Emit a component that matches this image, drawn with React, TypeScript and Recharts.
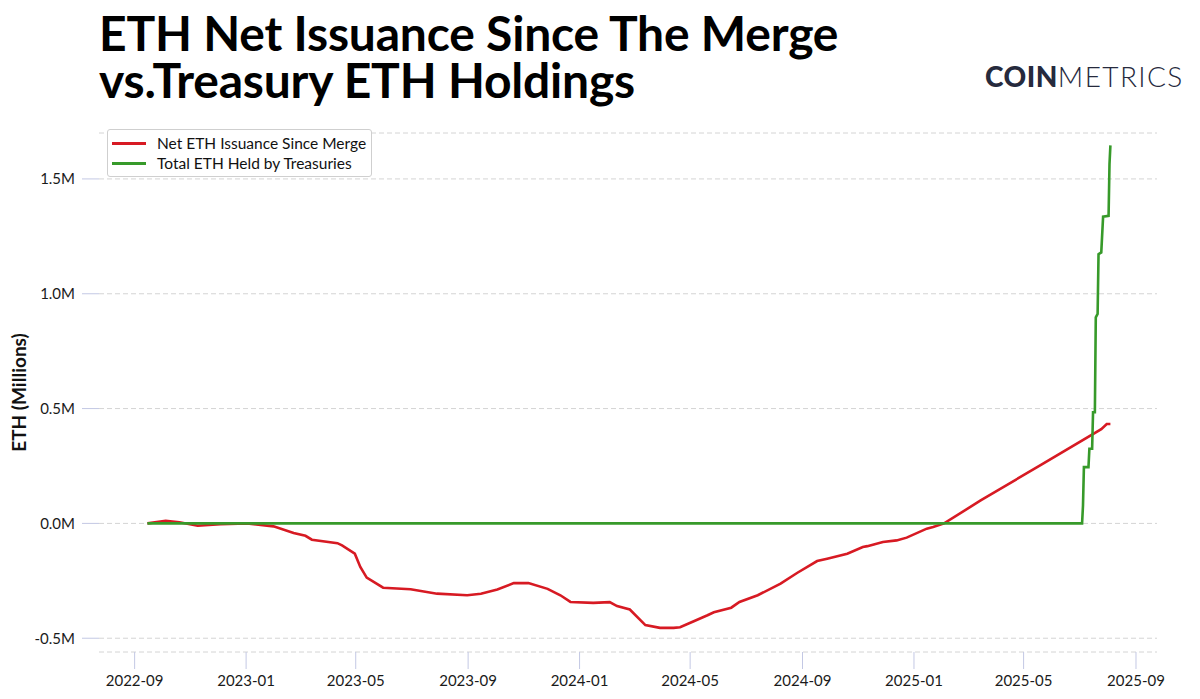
import React from 'react';
import { LineChart, Line, XAxis, YAxis, CartesianGrid, Label } from 'recharts';

// Net ETH issuance since the merge (millions of ETH)
const issuanceDates = [
  '2022-09-15', '2022-10-05', '2022-10-20', '2022-11-09', '2022-12-04', '2023-01-02',
  '2023-01-31', '2023-02-22', '2023-03-07', '2023-03-14', '2023-04-11', '2023-04-16',
  '2023-04-30', '2023-05-06', '2023-05-13', '2023-05-31', '2023-06-30', '2023-07-29',
  '2023-08-31', '2023-09-15', '2023-10-03', '2023-10-21', '2023-11-06', '2023-11-27',
  '2023-12-11', '2023-12-22', '2024-01-16', '2024-02-03', '2024-02-11', '2024-02-25',
  '2024-03-13', '2024-03-29', '2024-04-13', '2024-04-20', '2024-05-05', '2024-05-20',
  '2024-05-27', '2024-06-15', '2024-06-24', '2024-07-14', '2024-08-08', '2024-08-26',
  '2024-09-17', '2024-09-28', '2024-10-20', '2024-11-06', '2024-11-11', '2024-11-28',
  '2024-12-13', '2024-12-24', '2025-01-15', '2025-01-22', '2025-02-03', '2025-03-15',
  '2025-05-20', '2025-07-25', '2025-07-31', '2025-08-04',
];
const issuanceValues = [
  0, 0.011, 0.005, -0.01, -0.004, 0,
  -0.013, -0.042, -0.054, -0.071, -0.086, -0.096,
  -0.132, -0.19, -0.236, -0.28, -0.287, -0.306,
  -0.313, -0.306, -0.288, -0.26, -0.26, -0.285,
  -0.313, -0.342, -0.346, -0.343, -0.36, -0.375,
  -0.443, -0.455, -0.455, -0.452, -0.426, -0.4,
  -0.387, -0.367, -0.342, -0.313, -0.262, -0.216,
  -0.164, -0.154, -0.132, -0.103, -0.099, -0.081,
  -0.074, -0.062, -0.023, -0.016, 0, 0.1,
  0.255, 0.41, 0.433, 0.433,
];

// Total ETH held by treasuries (millions of ETH)
const treasuryDates = [
  '2022-09-15', '2025-07-04', '2025-07-05', '2025-07-06', '2025-07-11', '2025-07-12',
  '2025-07-15', '2025-07-16', '2025-07-18', '2025-07-19', '2025-07-21', '2025-07-22',
  '2025-07-25', '2025-07-27', '2025-08-02', '2025-08-03', '2025-08-04',
];
const treasuryValues = [
  0, 0, 0.078, 0.245, 0.245, 0.325,
  0.325, 0.484, 0.484, 0.897, 0.912, 1.172,
  1.18, 1.336, 1.339, 1.564, 1.646,
];

const xTickLabels = [
  '2022-09', '2023-01', '2023-05', '2023-09', '2024-01',
  '2024-05', '2024-09', '2025-01', '2025-05', '2025-09',
];
const yTicks = [-0.5, 0, 0.5, 1, 1.5];

const toTs = (d: string) => Date.parse(d + 'T00:00:00Z');

const issuanceData = issuanceDates.map((d, i) => ({ t: toTs(d), v: issuanceValues[i] }));
const treasuryData = treasuryDates.map((d, i) => ({ t: toTs(d), v: treasuryValues[i] }));
const xTicks = xTickLabels.map((l) => toTs(l + '-01'));

const series = [
  { name: 'Net ETH Issuance Since Merge', data: issuanceData, color: '#d71a23' },
  { name: 'Total ETH Held by Treasuries', data: treasuryData, color: '#379a2a' },
];

const fmtMonth = (ts: number) => {
  const d = new Date(ts);
  return `${d.getUTCFullYear()}-${String(d.getUTCMonth() + 1).padStart(2, '0')}`;
};

const titleLine: React.CSSProperties = {
  position: 'absolute',
  left: 99,
  fontSize: 48,
  fontWeight: 700,
  lineHeight: '47px',
  height: 47,
  letterSpacing: -0.2,
  color: '#000',
  whiteSpace: 'nowrap',
};

export default function App() {
  return (
    <div
      style={{
        position: 'absolute',
        left: 0,
        top: 0,
        width: 1200,
        height: 699,
        background: '#fff',
        fontFamily: 'Lato, "Noto Sans", sans-serif',
        color: '#111',
        overflow: 'hidden',
      }}
    >
      <div style={{ ...titleLine, top: 9 }}>ETH Net Issuance Since The Merge</div>
      <div style={{ ...titleLine, top: 56 }}>vs.Treasury ETH Holdings</div>

      <div
        style={{
          position: 'absolute',
          left: 985,
          top: 59,
          fontSize: 28,
          color: '#262a3d',
          letterSpacing: 0.5,
          whiteSpace: 'nowrap',
        }}
      >
        <span style={{ fontWeight: 900 }}>COIN</span>
        <span style={{ fontWeight: 300, letterSpacing: 1.4 }}>METRICS</span>
      </div>

      <LineChart
        width={1200}
        height={699}
        margin={{ top: 133, right: 43, bottom: 7, left: 10 }}
      >
        <CartesianGrid vertical={false} stroke="#d4d4d4" strokeDasharray="5 3" />
        <XAxis
          dataKey="t"
          type="number"
          domain={[toTs('2022-07-24'), toTs('2025-09-24')]}
          allowDataOverflow
          ticks={xTicks}
          interval={0}
          tickFormatter={fmtMonth}
          axisLine={false}
          tickLine={{ stroke: '#c3c8e4' }}
          tickSize={17}
          tickMargin={6}
          height={40}
          tick={{ fill: '#1a1a1a', fontSize: 15 }}
        />
        <YAxis
          type="number"
          domain={[-0.56, 1.7]}
          ticks={yTicks}
          interval={0}
          tickFormatter={(v: number) => `${v.toFixed(1)}M`}
          axisLine={false}
          tickLine={{ stroke: '#c3c8e4' }}
          tickSize={17}
          tickMargin={7}
          width={89}
          tick={{ fill: '#1a1a1a', fontSize: 15 }}
        >
          <Label
            value="ETH (Millions)"
            angle={-90}
            position="insideLeft"
            offset={9}
            style={{ textAnchor: 'middle', fontSize: 19, fontWeight: 700, fill: '#111' }}
          />
        </YAxis>
        {series.map((s) => (
          <Line
            key={s.name}
            data={s.data}
            dataKey="v"
            name={s.name}
            type="linear"
            stroke={s.color}
            strokeWidth={2.6}
            dot={false}
            isAnimationActive={false}
          />
        ))}
      </LineChart>

      <div
        style={{
          position: 'absolute',
          left: 107,
          top: 129,
          width: 265,
          height: 48,
          boxSizing: 'border-box',
          border: '1px solid #cfcfcf',
          borderRadius: 3,
          background: '#fff',
          padding: '3px 0 0 4px',
        }}
      >
        {series.map((s) => (
          <div key={s.name} style={{ display: 'flex', alignItems: 'center', height: 20 }}>
            <div style={{ width: 34, height: 3, background: s.color, marginRight: 11 }} />
            <span style={{ fontSize: 15.5, color: '#111', whiteSpace: 'nowrap' }}>{s.name}</span>
          </div>
        ))}
      </div>
    </div>
  );
}
